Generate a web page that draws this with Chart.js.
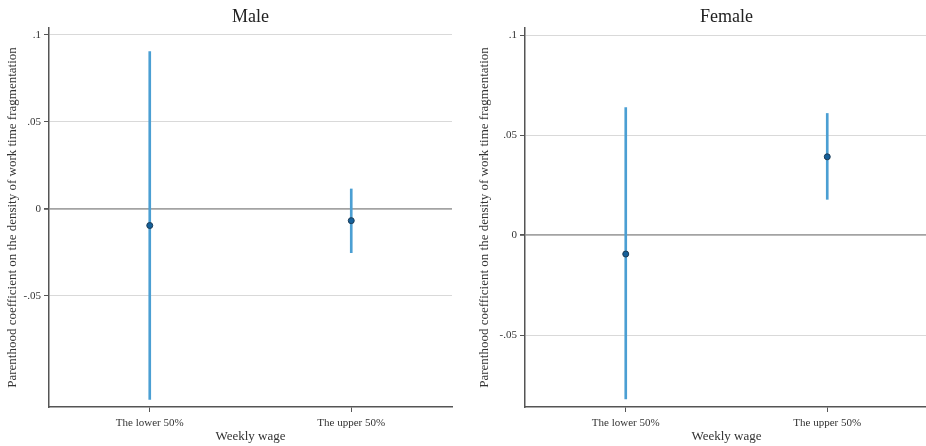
<!DOCTYPE html>
<html>
<head>
<meta charset="utf-8">
<script src="https://cdn.jsdelivr.net/npm/chart.js@4/dist/chart.umd.min.js"></script>
<style>
  html, body { margin: 0; padding: 0; background: #fff; overflow: hidden; }
  #wrap { position: relative; width: 926px; height: 446px; overflow: hidden; }
  .panel { position: absolute; top: 0; height: 446px; }
  #male { left: 0; width: 463px; }
  #female { left: 463px; width: 470px; }
</style>
</head>
<body>
<div id="wrap">
  <div class="panel" id="male"><canvas id="cMale"></canvas></div>
  <div class="panel" id="female"><canvas id="cFemale"></canvas></div>
</div>
<script>
// Wage groups on the x axis
const categories = ['The lower 50%', 'The upper 50%'];

// Parenthood coefficients with 95% confidence bounds
const maleCoef = [-0.0095, -0.0067];
const maleLow  = [-0.1095, -0.0251];
const maleHigh = [0.0905, 0.0115];

const femaleCoef = [-0.0094, 0.0393];
const femaleLow  = [-0.082, 0.018];
const femaleHigh = [0.064, 0.061];

// Vertical axis ticks and their printed labels
const yTickValues = [-0.05, 0, 0.05, 0.1];
const yTickLabels = ['-.05', '0', '.05', '.1'];

// Visible value range of each panel
const maleRange = [-0.1138, 0.104];
const femaleRange = [-0.086, 0.1038];

const yTitle = 'Parenthood coefficient on the density of work time fragmentation';
const xTitle = 'Weekly wage';

Chart.defaults.font.family = "'Liberation Serif', 'Times New Roman', serif";
Chart.defaults.color = '#333';

const ciColor = '#4b9fd3';
const pointFill = '#15609a';
const pointEdge = '#1c3b55';
const axisColor = '#555';

function makePanel(canvasId, title, coef, low, high, range, yAxisWidth, yTitlePad, rightPad) {
  const intervals = low.map((lo, i) => [lo, high[i]]);
  return new Chart(document.getElementById(canvasId), {
    type: 'bar',
    data: {
      labels: categories,
      datasets: [
        {
          type: 'line',
          data: coef,
          showLine: false,
          pointRadius: 3,
          pointBackgroundColor: pointFill,
          pointBorderColor: pointEdge,
          pointBorderWidth: 1,
          order: 0
        },
        {
          type: 'bar',
          data: intervals,
          backgroundColor: ciColor,
          borderWidth: 0,
          barThickness: 2,
          order: 1
        }
      ]
    },
    options: {
      responsive: true,
      maintainAspectRatio: false,
      animation: false,
      layout: { padding: { top: 0, right: rightPad, bottom: 0, left: 0 } },
      plugins: {
        legend: { display: false },
        tooltip: { enabled: false },
        title: {
          display: true,
          text: title,
          fullSize: false,
          color: '#222',
          font: { size: 18, weight: 'normal' },
          padding: { top: 6, bottom: 0.4 }
        }
      },
      scales: {
        x: {
          type: 'category',
          offset: true,
          grid: {
            offset: false,
            drawOnChartArea: false,
            drawTicks: true,
            tickLength: 5,
            tickColor: axisColor
          },
          border: { display: true, color: axisColor, width: 1.5 },
          ticks: { font: { size: 11 }, color: '#333', padding: 5, maxRotation: 0 },
          title: {
            display: true,
            text: xTitle,
            color: '#333',
            font: { size: 13 },
            padding: { top: 0, bottom: 2 }
          },
          afterFit: (s) => { s.height = 39; }
        },
        y: {
          type: 'linear',
          min: range[0],
          max: range[1],
          afterBuildTicks: (s) => { s.ticks = yTickValues.map(v => ({ value: v })); },
          ticks: {
            font: { size: 11 },
            color: '#333',
            padding: 3,
            callback: (v) => yTickLabels[yTickValues.indexOf(v)]
          },
          grid: {
            color: (c) => (c.tick && c.tick.value === 0 ? '#a3a3a3' : '#d9d9d9'),
            lineWidth: (c) => (c.tick && c.tick.value === 0 ? 1.8 : 1),
            tickLength: 5,
            tickColor: axisColor
          },
          border: { display: true, color: axisColor, width: 1.5 },
          title: {
            display: true,
            text: yTitle,
            color: '#333',
            font: { size: 13 },
            padding: { top: yTitlePad, bottom: 0 }
          },
          afterFit: (s) => { s.width = yAxisWidth; }
        }
      }
    }
  });
}

makePanel('cMale', 'Male', maleCoef, maleLow, maleHigh, maleRange, 49, 5, 11);
makePanel('cFemale', 'Female', femaleCoef, femaleLow, femaleHigh, femaleRange, 62, 14, 0);
</script>
</body>
</html>
